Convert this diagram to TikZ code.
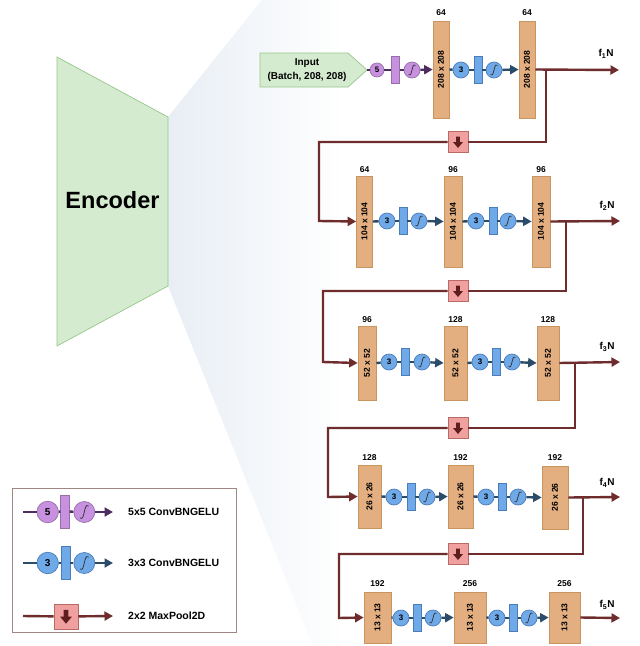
\documentclass[tikz,border=0pt]{standalone}
\usepackage{fontspec}
\setmainfont{Liberation Sans}
\usetikzlibrary{arrows.meta}
\definecolor{encfill}{HTML}{D5EBD0}
\definecolor{encdraw}{HTML}{97C68B}
\definecolor{fanc}{HTML}{E8EEF5}
\definecolor{blkfill}{HTML}{E3AE80}
\definecolor{blkdraw}{HTML}{C9955F}
\definecolor{bluefill}{HTML}{6FA9E8}
\definecolor{bluedraw}{HTML}{4A7DBA}
\definecolor{blueline}{HTML}{2B4C68}
\definecolor{purfill}{HTML}{C891E0}
\definecolor{purdraw}{HTML}{9670A8}
\definecolor{purline}{HTML}{4F2C60}
\definecolor{redline}{HTML}{6E2C2C}
\definecolor{poolfill}{HTML}{F0A09E}
\definecolor{pooldraw}{HTML}{B86A66}
\definecolor{poolarrow}{HTML}{5E1E1E}
\definecolor{legdraw}{HTML}{A08585}
\newcommand\intsym[2]{\begin{scope}[shift={(#1)},scale=#2]
  \draw[line width=0.75pt,black!80,line cap=round] (-3.2,4.6) .. controls (-1.2,6.2) and (-0.6,2.5) .. (0,0) .. controls (0.6,-2.5) and (1.2,-6.2) .. (3.2,-4.6);
\end{scope}}
\newcommand\poolsym[2]{\begin{scope}[shift={(#1)},scale=#2]
  \fill[poolarrow] (-1.9,-5.5) -- (1.9,-5.5) -- (1.9,0) -- (5,0) -- (0,6) -- (-5,0) -- (-1.9,0) -- cycle;
\end{scope}}
% #1 prefix, #2 xcirc, #3 xbar, #4 xsig, #5 y, #6 number, #7 kind (b/p), #8 from, #9 to
\newcommand\cbg[9]{%
  \node[#7circ] (#1c) at (#2,#5) {#6};
  \node[#7bar] (#1b) at (#3,#5) {};
  \node[#7sig] (#1s) at (#4,#5) {};
  \intsym{#1s}{1}
  \draw[#7ln] (#8) -- (#1c);
  \draw[#7ln] (#1c) -- (#1b);
  \draw[#7ln] (#1b) -- (#1s);
  \draw[#7ln,-{Triangle[length=8.5pt,width=9pt]}] (#1s) -- (#9);
}
\begin{document}
\begin{tikzpicture}[x=1pt,y=-1pt,
  blk/.style={draw=blkdraw,fill=blkfill,line width=0.7pt,inner sep=0pt},
  btxt/.style={rotate=90,font=\bfseries\fontsize{8.5}{9}\selectfont,inner sep=0pt},
  chl/.style={font=\bfseries\fontsize{8.5}{9}\selectfont,inner sep=0pt},
  flab/.style={font=\bfseries\fontsize{10}{10}\selectfont,inner sep=0pt},
  bcirc/.style={circle,draw=bluedraw,fill=bluefill,line width=0.7pt,minimum size=16pt,inner sep=0pt,font=\bfseries\fontsize{8}{8}\selectfont},
  bsig/.style={bcirc},
  bbar/.style={draw=bluedraw,fill=bluefill,line width=0.7pt,minimum width=8pt,minimum height=27pt,inner sep=0pt},
  pcirc/.style={circle,draw=purdraw,fill=purfill,line width=0.7pt,minimum size=14pt,inner sep=0pt,font=\bfseries\fontsize{8}{8}\selectfont},
  psig/.style={pcirc,minimum size=16pt},
  pbar/.style={draw=purdraw,fill=purfill,line width=0.7pt,minimum width=8pt,minimum height=27pt,inner sep=0pt},
  bln/.style={draw=blueline,line width=2.4pt},
  pln/.style={draw=purline,line width=2.4pt},
  rln/.style={draw=redline,line width=2.4pt},
  rarrow/.style={rln,-{Triangle[length=8.5pt,width=9pt]}},
  pool/.style={draw=pooldraw,fill=poolfill,line width=0.7pt,minimum width=20pt,minimum height=21pt,inner sep=0pt},
  legtxt/.style={anchor=west,font=\bfseries\fontsize{10.5}{11}\selectfont,inner sep=0pt}
]
\useasboundingbox (0,0) rectangle (640,646);
\fill[white] (0,0) rectangle (640,646);
% fan
\begin{scope}
  \clip (168,117) -- (262,0) -- (640,0) -- (640,646) -- (313,646) -- (168,286) -- cycle;
  \shade[left color=fanc,right color=white] (168,0) rectangle (345,646);
\end{scope}
% encoder
\draw[draw=encdraw,fill=encfill,line width=0.7pt] (57,57) -- (168,117) -- (168,286) -- (57,346) -- cycle;
\node[font=\bfseries\fontsize{23.5}{24}\selectfont] (enc) at (112.5,200) {Encoder};

% input
\draw[draw=encdraw,fill=encfill,line width=0.7pt] (260,53) -- (348,53) -- (367,70) -- (348,87) -- (260,87) -- cycle;
\node[align=center,font=\bfseries\fontsize{10}{14.5}\selectfont,inner sep=0pt] (inp) at (307,70) {Input\\(Batch, 208, 208)};
\coordinate (inptip) at (367,70);

% ---------- row 1
\node[blk,minimum width=16pt,minimum height=97pt] (b11) at (441,69.5) {};
\node[btxt] (b11t) at (b11) {208 x 208};
\node[chl] (l11) at (441,13) {64};
\node[blk,minimum width=16pt,minimum height=97pt] (b12) at (527,69.5) {};
\node[btxt] (b12t) at (b12) {208 x 208};
\node[chl] (l12) at (527,13) {64};
\cbg{u11}{377}{395.5}{412}{70}{5}{p}{inptip}{b11.west}
\cbg{u12}{461}{478}{494}{70}{3}{b}{b11.east}{b12.west}
\coordinate (o1) at (619,70);
\draw[rarrow] (b12.east) -- (o1);
\node[flab] (f1) at (606,54) {f\textsubscript{1}N};

% ---------- row 2
\node[blk,minimum width=16pt,minimum height=91pt] (b21) at (364.5,221.5) {};
\node[btxt] (b21t) at (b21) {104 x 104};
\node[chl] (l21) at (364.5,170) {64};
\node[blk,minimum width=18pt,minimum height=91pt] (b22) at (453,221.5) {};
\node[btxt] (b22t) at (b22) {104 x 104};
\node[chl] (l22) at (453,170) {96};
\node[blk,minimum width=18pt,minimum height=91pt] (b23) at (541,221.5) {};
\node[btxt] (b23t) at (b23) {104 x 104};
\node[chl] (l23) at (541,170) {96};
\cbg{u21}{387}{403}{419}{221}{3}{b}{b21.east}{b22.west}
\cbg{u22}{476}{493}{508}{221}{3}{b}{b22.east}{b23.west}
\coordinate (o2) at (620,221);
\draw[rarrow] (b23.east) -- (o2);
\node[flab] (f2) at (607,206) {f\textsubscript{2}N};

% ---------- row 3
\node[blk,minimum width=18pt,minimum height=74pt] (b31) at (367,363) {};
\node[btxt] (b31t) at (b31) {52 x 52};
\node[chl] (l31) at (367,320) {96};
\node[blk,minimum width=23pt,minimum height=74pt] (b32) at (455.5,363) {};
\node[btxt] (b32t) at (b32) {52 x 52};
\node[chl] (l32) at (455.5,320) {128};
\node[blk,minimum width=22pt,minimum height=74pt] (b33) at (548,363) {};
\node[btxt] (b33t) at (b33) {52 x 52};
\node[chl] (l33) at (548,320) {128};
\cbg{u31}{389}{405.5}{422}{362}{3}{b}{b31.east}{b32.west}
\cbg{u32}{480}{496.5}{512}{362}{3}{b}{b32.east}{b33.west}
\coordinate (o3) at (620,362);
\draw[rarrow] (b33.east) -- (o3);
\node[flab] (f3) at (607,347) {f\textsubscript{3}N};

% ---------- row 4
\node[blk,minimum width=23pt,minimum height=63pt] (b41) at (369.5,496.5) {};
\node[btxt] (b41t) at (b41) {26 x 26};
\node[chl] (l41) at (369.5,458) {128};
\node[blk,minimum width=25pt,minimum height=63pt] (b42) at (460.5,496.5) {};
\node[btxt] (b42t) at (b42) {26 x 26};
\node[chl] (l42) at (460.5,458) {192};
\node[blk,minimum width=26pt,minimum height=63pt] (b43) at (555,497.5) {};
\node[btxt] (b43t) at (b43) {26 x 26};
\node[chl] (l43) at (555,458) {192};
\cbg{u41}{394}{411}{427}{497}{3}{b}{b41.east}{b42.west}
\cbg{u42}{486}{502.5}{518}{497}{3}{b}{b42.east}{b43.west}
\coordinate (o4) at (620,497);
\draw[rarrow] (b43.east) -- (o4);
\node[flab] (f4) at (607,483) {f\textsubscript{4}N};

% ---------- row 5
\node[blk,minimum width=27pt,minimum height=51pt] (b51) at (377.5,617.5) {};
\node[btxt] (b51t) at (b51) {13 x 13};
\node[chl] (l51) at (377.5,584) {192};
\node[blk,minimum width=32pt,minimum height=51pt] (b52) at (470,617.5) {};
\node[btxt] (b52t) at (b52) {13 x 13};
\node[chl] (l52) at (470,584) {256};
\node[blk,minimum width=31pt,minimum height=51pt] (b53) at (564.5,617.5) {};
\node[btxt] (b53t) at (b53) {13 x 13};
\node[chl] (l53) at (564.5,584) {256};
\cbg{u51}{401}{417.5}{433}{618}{3}{b}{b51.east}{b52.west}
\cbg{u52}{497}{513.5}{529}{618}{3}{b}{b52.east}{b53.west}
\coordinate (o5) at (620,618);
\draw[rarrow] (b53.east) -- (o5);
\node[flab] (f5) at (607,605) {f\textsubscript{5}N};

% ---------- pools
\node[pool] (p1) at (458,142) {}; \poolsym{p1}{1}
\coordinate (r1a) at (546,70); \coordinate (r1b) at (546,142);
\coordinate (r1c) at (319,142); \coordinate (r1d) at (319,221);
\draw[rln] (r1a) -- (r1b) -- (p1);
\draw[rarrow] (p1) -- (r1c) -- (r1d) -- (b21.west);

\node[pool] (p2) at (458,291) {}; \poolsym{p2}{1}
\coordinate (r2a) at (566,221); \coordinate (r2b) at (566,291);
\coordinate (r2c) at (323,291); \coordinate (r2d) at (323,362);
\draw[rln] (r2a) -- (r2b) -- (p2);
\draw[rarrow] (p2) -- (r2c) -- (r2d) -- (b31.west);

\node[pool] (p3) at (458,428) {}; \poolsym{p3}{1}
\coordinate (r3a) at (575,362); \coordinate (r3b) at (575,428);
\coordinate (r3c) at (328,428); \coordinate (r3d) at (328,497);
\draw[rln] (r3a) -- (r3b) -- (p3);
\draw[rarrow] (p3) -- (r3c) -- (r3d) -- (b41.west);

\node[pool] (p4) at (458,554) {}; \poolsym{p4}{1}
\coordinate (r4a) at (583,497); \coordinate (r4b) at (583,554);
\coordinate (r4c) at (339,554); \coordinate (r4d) at (339,618);
\draw[rln] (r4a) -- (r4b) -- (p4);
\draw[rarrow] (p4) -- (r4c) -- (r4d) -- (b51.west);

% ---------- legend
\draw[draw=legdraw,fill=white,line width=0.9pt] (12,488) rectangle (236,632);
% row 1
\coordinate (g1s) at (23,512); \coordinate (g1e) at (113,512);
\node[pcirc,minimum size=21.5pt,font=\bfseries\fontsize{10}{10}\selectfont] (g1c) at (47.7,512) {5};
\node[pbar,minimum width=8.5pt,minimum height=33pt] (g1b) at (65,511.5) {};
\node[psig,minimum size=21pt] (g1g) at (84.3,512) {};
\intsym{g1g}{1.3}
\draw[pln] (g1s) -- (g1c); \draw[pln] (g1c) -- (g1b); \draw[pln] (g1b) -- (g1g);
\draw[pln,-{Triangle[length=8.5pt,width=9pt]}] (g1g) -- (g1e);
\node[legtxt] (g1t) at (128,512) {5x5 ConvBNGELU};
% row 2
\coordinate (g2s) at (23,563); \coordinate (g2e) at (113,563);
\node[bcirc,minimum size=21.5pt,font=\bfseries\fontsize{10}{10}\selectfont] (g2c) at (47.7,563) {3};
\node[bbar,minimum width=9pt,minimum height=33pt] (g2b) at (65.5,563) {};
\node[bsig,minimum size=21pt] (g2g) at (84.3,563) {};
\intsym{g2g}{1.3}
\draw[bln] (g2s) -- (g2c); \draw[bln] (g2c) -- (g2b); \draw[bln] (g2b) -- (g2g);
\draw[bln,-{Triangle[length=8.5pt,width=9pt]}] (g2g) -- (g2e);
\node[legtxt] (g2t) at (128,563) {3x3 ConvBNGELU};
% row 3
\coordinate (g3s) at (23,616); \coordinate (g3e) at (113,616);
\node[pool,minimum width=24pt,minimum height=25pt] (g3p) at (66,616.5) {};
\poolsym{g3p}{1.2}
\draw[rln] (g3s) -- (g3p);
\draw[rarrow] (g3p) -- (g3e);
\node[legtxt] (g3t) at (128,616) {2x2 MaxPool2D};
\end{tikzpicture}
\end{document}
